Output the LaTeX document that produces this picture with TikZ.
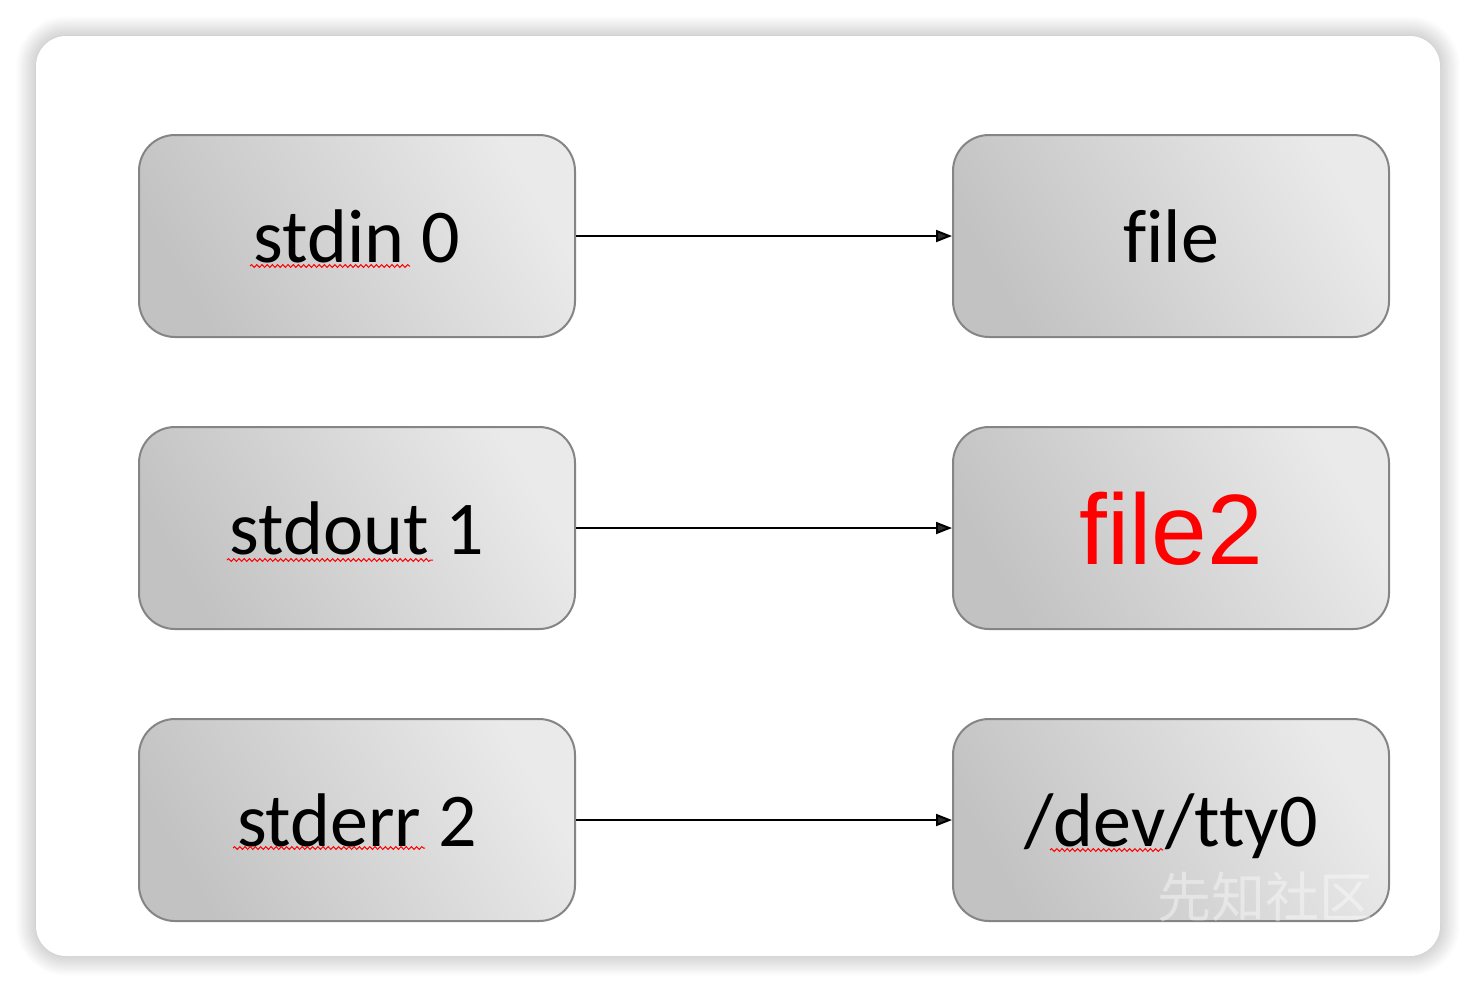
\documentclass[tikz,border=0pt]{standalone}
\usepackage{fontspec}
\setmainfont{Carlito}[Ligatures=NoCommon]
\newfontfamily\arialfont{Liberation Sans}
\newfontfamily\cjkfont{Noto Sans CJK SC}
\usepackage{xcolor}
\usetikzlibrary{arrows.meta, positioning, shadows.blur, decorations.pathmorphing}

\definecolor{boxdark}{HTML}{C2C2C2}
\definecolor{boxlight}{HTML}{EAEAEA}
\definecolor{boxline}{HTML}{858585}

\begin{document}
\begin{tikzpicture}[
    x=0.5pt, y=-0.5pt,
    >={Triangle[length=8pt,width=6pt]},
    node distance=44pt and 188pt,
    fdbox/.style = {rectangle, rounded corners=18pt, draw=boxline,
                    line width=1pt, minimum width=218pt, minimum height=101pt,
                    top color=boxlight, bottom color=boxdark,
                    shading angle=-60, text depth=0pt,
                    font=\fontsize{38pt}{40pt}\selectfont},
    squig/.style   = {draw=red, line width=0.5pt, decorate,
                      decoration={snake, amplitude=0.7pt, segment length=2.6pt}},
]

% card with soft shadow
\useasboundingbox (0,0) rectangle (1476,992);
\path[fill=white, rounded corners=15pt,
      blur shadow={shadow xshift=0pt, shadow yshift=0pt,
                   shadow blur radius=10pt, shadow blur steps=12,
                   shadow opacity=35}]
  (36,36) rectangle (1440,956);

\node[fdbox] (in0) at (357,236) {stdin 0};
\node[fdbox, right=of in0] (file) {file};

\node[fdbox, below=of in0] (out1) {stdout 1};
\node[fdbox, right=of out1] (file2)
    {\arialfont\fontsize{50pt}{52pt}\selectfont\color{red}file2};

\node[fdbox, below=of out1] (err2) {stderr 2};
\node[fdbox, right=of err2] (tty) {/dev/tty0};

\draw[->, line width=1pt] (in0)  -- (file);
\draw[->, line width=1pt] (out1) -- (file2);
\draw[->, line width=1pt] (err2) -- (tty);

% spell-check marks
\draw[squig] ([xshift=-53.5pt, yshift=-15pt]in0.center)  -- ([xshift=26.5pt, yshift=-15pt]in0.center);
\draw[squig] ([xshift=-65pt, yshift=-16pt]out1.center)   -- ([xshift=38pt, yshift=-16pt]out1.center);
\draw[squig] ([xshift=-62pt, yshift=-14pt]err2.center)   -- ([xshift=34pt, yshift=-14pt]err2.center);
\draw[squig] ([xshift=-60.5pt, yshift=-15pt]tty.center)  -- ([xshift=-4pt, yshift=-15pt]tty.center);

% watermark
\node[text=white, opacity=0.4, font=\cjkfont\fontsize{27pt}{29pt}\selectfont]
  (mark) at ([xshift=47pt, yshift=-38.5pt]tty.center) {先知社区};

\end{tikzpicture}
\end{document}
